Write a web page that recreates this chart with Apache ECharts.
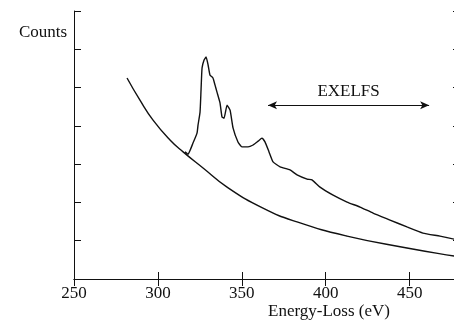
<!DOCTYPE html>
<html>
<head>
<meta charset="utf-8">
<script src="https://cdn.jsdelivr.net/npm/echarts@6/dist/echarts.min.js"></script>
<style>
html,body{margin:0;padding:0;background:#fff;}
#chart{width:454px;height:321px;}
</style>
</head>
<body>
<div id="chart"></div>
<script>
// Energy-loss values (eV) and counts for the measured spectrum
var specX = [316.1, 317.9, 320.9, 323.3, 323.9, 325.1, 325.7, 326.3, 327.5, 328.7, 329.9, 331.0, 332.8, 334.0, 335.2, 337.0, 338.2, 339.4, 341.2, 343.0, 344.8, 347.7, 350.1, 353.7, 356.7, 359.7, 362.0, 363.8, 366.2, 368.6, 372.8, 378.7, 382.9, 388.9, 391.8, 396.6, 404.4, 412.7, 420.4, 428.2, 438.3, 448.4, 457.9, 468.1, 476.5, 480];
var specY = [3.32, 3.26, 3.55, 3.81, 4.02, 4.36, 4.94, 5.51, 5.72, 5.80, 5.59, 5.33, 5.25, 5.07, 4.88, 4.60, 4.23, 4.20, 4.54, 4.41, 3.94, 3.58, 3.45, 3.45, 3.50, 3.60, 3.68, 3.58, 3.32, 3.06, 2.93, 2.85, 2.72, 2.61, 2.59, 2.40, 2.19, 2.01, 1.88, 1.72, 1.54, 1.36, 1.20, 1.12, 1.04, 1.00];
// Background (power-law) curve
var bgX = [281.6, 289.3, 297.1, 307.2, 315.0, 326.9, 341.2, 362.6, 382.9, 412.7, 448.4, 476.5, 480];
var bgY = [5.25, 4.67, 4.15, 3.63, 3.32, 2.90, 2.40, 1.85, 1.49, 1.12, 0.81, 0.60, 0.58];
// Axis settings
var xMin = 250, xMax = 480, xStep = 50;
var yMin = 0, yMax = 7, yStep = 1;
// Annotation: EXELFS range arrow
var exelfsLabel = 'EXELFS';
var exelfsRange = [365.6, 461.6];
var exelfsLevel = 4.54;
var yTitle = 'Counts';
var xTitle = 'Energy-Loss (eV)';

function pairs(xs, ys){ return xs.map(function(x,i){ return [x, ys[i]]; }); }

var FONT = 'Liberation Serif';
var chart = echarts.init(document.getElementById('chart'), null, {renderer:'canvas'});
var axisCommon = {
  axisLine:{show:true, lineStyle:{color:'#111', width:1}},
  axisTick:{show:true, inside:true, length:7, lineStyle:{color:'#111', width:1}},
  splitLine:{show:false}
};
chart.setOption({
  backgroundColor:'#fff',
  animation:false,
  grid:{left:74, top:11, width:386, height:268, outerBoundsMode:'none', containLabel:false},
  xAxis:[
    Object.assign({type:'value', min:xMin, max:xMax, interval:xStep, position:'bottom',
      axisLabel:{show:true, color:'#111', fontFamily:FONT, fontSize:17, margin:6, showMaxLabel:false}}, axisCommon),
    Object.assign({type:'value', min:xMin, max:xMax, interval:xStep, position:'top',
      axisLabel:{show:false}}, axisCommon)
  ],
  yAxis:[
    Object.assign({type:'value', min:yMin, max:yMax, interval:yStep, position:'left',
      axisLabel:{show:false}}, axisCommon),
    Object.assign({type:'value', min:yMin, max:yMax, interval:yStep, position:'right',
      axisLabel:{show:false}}, axisCommon)
  ],
  series:[
    {type:'line', data:pairs(bgX, bgY), showSymbol:false, smooth:true,
      lineStyle:{color:'#111', width:1.4}},
    {type:'line', data:pairs(specX, specY), showSymbol:false, smooth:0.15,
      lineStyle:{color:'#111', width:1.4},
      markLine:{
        silent:true,
        symbol:['arrow','arrow'],
        symbolSize:[6,9],
        lineStyle:{color:'#111', width:1, type:'solid'},
        label:{show:true, position:'middle', formatter:exelfsLabel, color:'#111',
          fontFamily:FONT, fontSize:17, backgroundColor:'#fff', padding:[0,3]},
        data:[[{coord:[exelfsRange[0], exelfsLevel]},{coord:[exelfsRange[1], exelfsLevel]}]]
      }
    }
  ],
  graphic:[
    {type:'text', left:19, top:24, style:{text:yTitle, fontFamily:FONT, fontSize:17, fill:'#111'}},
    {type:'text', left:268, top:303, style:{text:xTitle, fontFamily:FONT, fontSize:17, fill:'#111'}}
  ]
});
</script>
</body>
</html>
